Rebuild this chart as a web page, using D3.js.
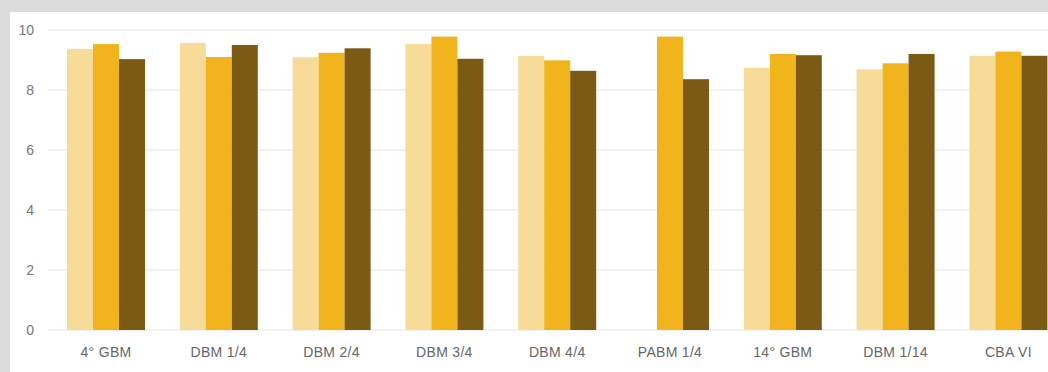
<!DOCTYPE html>
<html>
<head>
<meta charset="utf-8">
<script src="https://cdn.jsdelivr.net/npm/d3@7"></script>
<style>
  html, body { margin: 0; padding: 0; background: #dcdcdc; overflow: hidden; }
  svg { display: block; }
</style>
</head>
<body>
<svg id="chart" width="1048" height="372"></svg>
<script>
// Scores per unit, three grouped series
const categories = ["4° GBM", "DBM 1/4", "DBM 2/4", "DBM 3/4", "DBM 4/4", "PABM 1/4", "14° GBM", "DBM 1/14", "CBA VI"];
const lightValues = [9.37, 9.57, 9.09, 9.53, 9.14, null, 8.74, 8.69, 9.14];
const midValues   = [9.53, 9.10, 9.24, 9.78, 8.99, 9.78, 9.20, 8.89, 9.28];
const darkValues  = [9.03, 9.50, 9.39, 9.04, 8.64, 8.36, 9.16, 9.20, 9.14];
const seriesKeys  = ["light", "mid", "dark"];
const yTicks      = [0, 2, 4, 6, 8, 10];

const colors = { light: "#f6dc98", mid: "#f1b41c", dark: "#7b5b14" };
const seriesData = { light: lightValues, mid: midValues, dark: darkValues };

const svg = d3.select("#chart");
const W = 1048, H = 372;

// white panel
svg.append("rect").attr("x", 10).attr("y", 12).attr("width", W - 10).attr("height", H - 12).attr("fill", "#ffffff");

const y = d3.scaleLinear().domain([0, 10]).range([330, 30]);

const x0 = d3.scaleBand()
  .domain(categories)
  .range([49.6, 49.6 + 112.8 * 9])
  .paddingInner(0.3085)
  .paddingOuter(0.1543);

const x1 = d3.scaleBand().domain(seriesKeys).range([0, x0.bandwidth()]).padding(0);

// gridlines
svg.append("g").selectAll("line").data(yTicks).join("line")
  .attr("x1", 48).attr("x2", W)
  .attr("y1", d => y(d)).attr("y2", d => y(d))
  .attr("stroke", "#e3e3e3").attr("stroke-width", 1.2);

// y tick labels
svg.append("g").selectAll("text").data(yTicks).join("text")
  .attr("x", 34).attr("y", d => y(d)).attr("dy", "0.35em")
  .attr("text-anchor", "end")
  .attr("font-family", "'Liberation Sans', Arial, sans-serif")
  .attr("font-size", 14).attr("fill", "#777777")
  .text(d => d);

// bars
const groups = svg.append("g").selectAll("g").data(categories).join("g")
  .attr("transform", d => `translate(${x0(d)},0)`);

groups.selectAll("rect")
  .data((c, i) => seriesKeys.map(k => ({ key: k, value: seriesData[k][i] })).filter(d => d.value != null))
  .join("rect")
  .attr("x", d => x1(d.key))
  .attr("width", x1.bandwidth())
  .attr("y", d => y(d.value))
  .attr("height", d => y(0) - y(d.value))
  .attr("fill", d => colors[d.key]);

// category labels
svg.append("g").selectAll("text").data(categories).join("text")
  .attr("x", d => x0(d) + x0.bandwidth() / 2)
  .attr("y", 357)
  .attr("text-anchor", "middle")
  .attr("font-family", "'Liberation Sans', Arial, sans-serif")
  .attr("font-size", 14).attr("fill", "#666666")
  .attr("letter-spacing", 0.3)
  .text(d => d);
</script>
</body>
</html>
